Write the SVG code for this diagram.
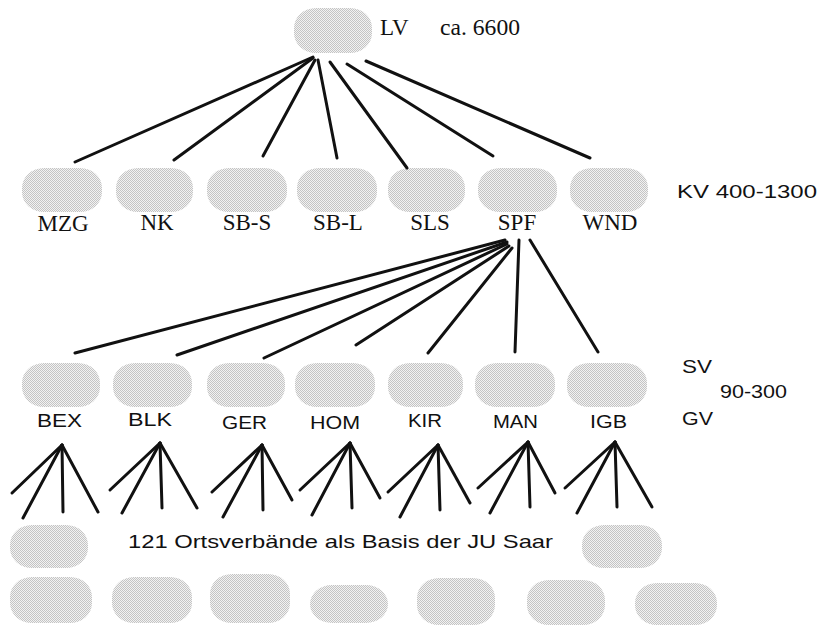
<svg xmlns="http://www.w3.org/2000/svg" width="822" height="631" viewBox="0 0 822 631">
<defs>
<pattern id="dots" width="2" height="2" patternUnits="userSpaceOnUse">
<rect width="2" height="2" fill="#f2f2f2"/>
<rect width="1" height="1" fill="#c4c4c4"/>
<rect x="1" y="1" width="1" height="1" fill="#c4c4c4"/>
</pattern>
</defs>
<style>
.b{fill:url(#dots)}
.sf{font-family:"Liberation Serif","Times New Roman",serif;font-size:23px;fill:#111}
.ss{font-family:"Liberation Sans",Arial,sans-serif;font-size:19px;fill:#111}
.c line{stroke:#111;stroke-width:3;stroke-linecap:round}
</style>
<rect width="822" height="631" fill="#fff"/>
<g id="LV"><rect class="b" x="294" y="8" width="78" height="45" rx="22" ry="20"/><text class="sf" x="380" y="35" font-size="21">LV</text></g>
<text class="sf" x="440" y="35" font-size="21" textLength="80" lengthAdjust="spacingAndGlyphs">ca. 6600</text>
<g id="MZG"><rect class="b" x="22" y="168" width="80" height="44" rx="22" ry="20"/><text class="sf" x="63" y="231" text-anchor="middle">MZG</text></g>
<g id="NK"><rect class="b" x="116" y="168" width="77" height="44" rx="22" ry="20"/><text class="sf" x="157" y="230" text-anchor="middle">NK</text></g>
<g id="SB-S"><rect class="b" x="207" y="168" width="80" height="44" rx="22" ry="20"/><text class="sf" x="247" y="230" text-anchor="middle">SB-S</text></g>
<g id="SB-L"><rect class="b" x="297" y="168" width="80" height="44" rx="22" ry="20"/><text class="sf" x="338" y="230" text-anchor="middle">SB-L</text></g>
<g id="SLS"><rect class="b" x="388" y="168" width="77" height="44" rx="22" ry="20"/><text class="sf" x="430" y="230" text-anchor="middle">SLS</text></g>
<g id="SPF"><rect class="b" x="478" y="168" width="79" height="44" rx="22" ry="20"/><text class="sf" x="517" y="230" text-anchor="middle">SPF</text></g>
<g id="WND"><rect class="b" x="570" y="168" width="78" height="44" rx="22" ry="20"/><text class="sf" x="610" y="230" text-anchor="middle">WND</text></g>
<text class="ss" x="677" y="198" textLength="140" lengthAdjust="spacingAndGlyphs">KV 400-1300</text>
<g id="BEX"><rect class="b" x="22" y="363" width="78" height="44" rx="22" ry="20"/><text class="ss" x="37" y="427" textLength="45" lengthAdjust="spacingAndGlyphs">BEX</text></g>
<g id="BLK"><rect class="b" x="113" y="363" width="79" height="44" rx="22" ry="20"/><text class="ss" x="128" y="426" textLength="44" lengthAdjust="spacingAndGlyphs">BLK</text></g>
<g id="GER"><rect class="b" x="207" y="363" width="78" height="44" rx="22" ry="20"/><text class="ss" x="222" y="429" textLength="45" lengthAdjust="spacingAndGlyphs">GER</text></g>
<g id="HOM"><rect class="b" x="295" y="363" width="80" height="44" rx="22" ry="20"/><text class="ss" x="310" y="429" textLength="50" lengthAdjust="spacingAndGlyphs">HOM</text></g>
<g id="KIR"><rect class="b" x="388" y="363" width="75" height="44" rx="22" ry="20"/><text class="ss" x="408" y="427" textLength="34" lengthAdjust="spacingAndGlyphs">KIR</text></g>
<g id="MAN"><rect class="b" x="475" y="363" width="80" height="44" rx="22" ry="20"/><text class="ss" x="493" y="428" textLength="45" lengthAdjust="spacingAndGlyphs">MAN</text></g>
<g id="IGB"><rect class="b" x="567" y="363" width="80" height="44" rx="22" ry="20"/><text class="ss" x="590" y="428" textLength="37" lengthAdjust="spacingAndGlyphs">IGB</text></g>
<text class="ss" x="682" y="373" textLength="30" lengthAdjust="spacingAndGlyphs">SV</text>
<text class="ss" x="720" y="398" textLength="67" lengthAdjust="spacingAndGlyphs">90-300</text>
<text class="ss" x="682" y="425" textLength="31" lengthAdjust="spacingAndGlyphs">GV</text>
<text class="ss" x="128" y="548" font-size="20" textLength="425" lengthAdjust="spacingAndGlyphs">121 Ortsverbände als Basis der JU Saar</text>
<g id="OV1"><rect class="b" x="10" y="525" width="78" height="43" rx="22" ry="20"/></g>
<g id="OV2"><rect class="b" x="582" y="525" width="80" height="43" rx="22" ry="20"/></g>
<g id="OV3"><rect class="b" x="10" y="577" width="82" height="46" rx="22" ry="20"/></g>
<g id="OV4"><rect class="b" x="112" y="577" width="80" height="46" rx="22" ry="20"/></g>
<g id="OV5"><rect class="b" x="210" y="574" width="80" height="49" rx="22" ry="20"/></g>
<g id="OV6"><rect class="b" x="310" y="585" width="78" height="38" rx="22" ry="19"/></g>
<g id="OV7"><rect class="b" x="417" y="578" width="78" height="47" rx="22" ry="20"/></g>
<g id="OV8"><rect class="b" x="527" y="580" width="78" height="45" rx="22" ry="20"/></g>
<g id="OV9"><rect class="b" x="635" y="583" width="82" height="42" rx="22" ry="20"/></g>
<g id="connectors" class="c">
<line x1="313" y1="57" x2="75" y2="162"/>
<line x1="313" y1="58" x2="174" y2="160"/>
<line x1="315" y1="60" x2="263" y2="156"/>
<line x1="318" y1="60" x2="337" y2="158"/>
<line x1="330" y1="62" x2="407" y2="168"/>
<line x1="347" y1="64" x2="493" y2="156"/>
<line x1="366" y1="61" x2="590" y2="158"/>
<line x1="505" y1="240" x2="75" y2="353"/>
<line x1="507" y1="242" x2="177" y2="355"/>
<line x1="507" y1="244" x2="264" y2="358"/>
<line x1="509" y1="246" x2="356" y2="345"/>
<line x1="512" y1="248" x2="428" y2="353"/>
<line x1="519" y1="240" x2="515" y2="352"/>
<line x1="530" y1="240" x2="598" y2="352"/>
<line x1="62" y1="445" x2="12" y2="493"/><line x1="62" y1="445" x2="23" y2="518"/><line x1="62" y1="445" x2="63" y2="512"/><line x1="62" y1="445" x2="98" y2="512"/>
<line x1="160" y1="443" x2="110" y2="490"/><line x1="160" y1="443" x2="122" y2="513"/><line x1="160" y1="443" x2="162" y2="508"/><line x1="160" y1="443" x2="197" y2="508"/>
<line x1="262" y1="445" x2="212" y2="492"/><line x1="262" y1="445" x2="223" y2="517"/><line x1="262" y1="445" x2="263" y2="510"/><line x1="262" y1="445" x2="292" y2="500"/>
<line x1="350" y1="443" x2="300" y2="490"/><line x1="350" y1="443" x2="312" y2="515"/><line x1="350" y1="443" x2="352" y2="508"/><line x1="350" y1="443" x2="380" y2="498"/>
<line x1="438" y1="445" x2="388" y2="492"/><line x1="438" y1="445" x2="400" y2="517"/><line x1="438" y1="445" x2="440" y2="510"/><line x1="438" y1="445" x2="470" y2="503"/>
<line x1="528" y1="442" x2="478" y2="488"/><line x1="528" y1="442" x2="490" y2="513"/><line x1="528" y1="442" x2="530" y2="507"/><line x1="528" y1="442" x2="555" y2="493"/>
<line x1="615" y1="442" x2="565" y2="488"/><line x1="615" y1="442" x2="577" y2="513"/><line x1="615" y1="442" x2="617" y2="507"/><line x1="615" y1="442" x2="652" y2="507"/>
</g>
</svg>
